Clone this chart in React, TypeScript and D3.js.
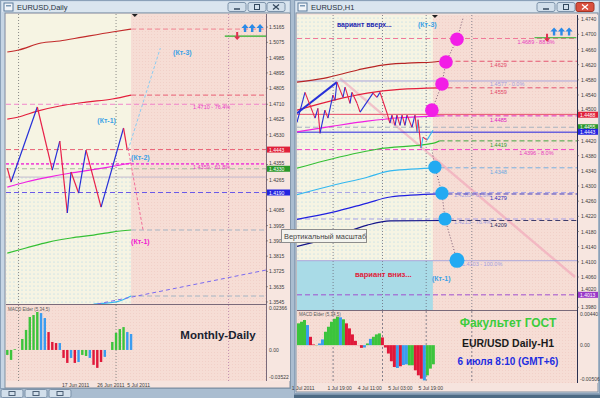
import React, { useEffect, useRef } from 'react';
import * as d3 from 'd3';

// ---- EURUSD, Daily (left window): points are [bar, price] ----
const dailyTicks = [1.5165, 1.5075, 1.4985, 1.4895, 1.4805, 1.471, 1.4625, 1.453, 1.4355, 1.4265, 1.4085, 1.3995, 1.3905, 1.3815, 1.3725, 1.3635, 1.3545];
const dailyMarkers = [1.4443, 1.433, 1.419];
const dailySeparators = [3, 29, 59];
const dailyShiftStart = 33;
const dailyUpperRed = [[0, 1.5018], [3, 1.503], [9, 1.5071], [14, 1.5083], [20, 1.5106], [28, 1.5136], [33, 1.5153]];
const dailyLowerRed = [[0, 1.4623], [3, 1.4635], [8, 1.467], [14, 1.47], [21, 1.4723], [28, 1.4741], [33, 1.4764]];
const dailyMagenta = [[0, 1.4222], [5, 1.4252], [11, 1.4281], [17, 1.4305], [22, 1.4322], [27, 1.434], [33, 1.4364]];
const dailyGreen = [[0, 1.3833], [5, 1.3863], [11, 1.3898], [17, 1.3922], [23, 1.3939], [28, 1.3957], [33, 1.3969]];
const dailyCyan = [[23, 1.3533], [29, 1.3545], [33, 1.358]];
const dailyTrend = [[24, 1.3533], [69, 1.3733]];
const dailyZigzag = [[0, 1.4334], [1, 1.4252], [8, 1.4694], [12, 1.4322], [14, 1.4493], [16, 1.4069], [17, 1.4311], [19, 1.4187], [21, 1.444], [25, 1.4104], [31, 1.457], [32, 1.444]];
const dailyKtUp = [[32.2, 1.444], [40.8, 1.5041]];
const dailyKtDown = [[32.2, 1.4452], [36.2, 1.3969]];
const dailyLevels = [1.471, 1.4443, 1.4359, 1.433, 1.4281, 1.419];
const dailyShiftLevels = [1.5153, 1.4764, 1.3969, 1.358];
const dailyFibs = [1.471, 1.4359];
const dailyFibNames = ['76.4%', '61.8%'];
const dailyTarget = [[58, 1.5112], [69, 1.5112]];
const dailyArrows = [63.4, 65.3, 67.4];
const dailyNotes = ['(Кт-1)', '(Кт-2)', '(Кт-3)', '(Кт-1)'];
const dailyNoteAt = [[24, 1.4599], [33, 1.4381], [44.2, 1.5], [33, 1.3886]];
const dailyMacd = [-0.0028, -0.0056, 0.0004, 0, 0.0062, 0.0113, 0.0186, 0.0197, 0.0214, 0.0208, 0.018, 0.0101, 0.0045, 0.0039, 0.0039, -0.0045, -0.0073, -0.0045, -0.0073, -0.0068, -0.0028, -0.0034, -0.0045, -0.0084, -0.0101, -0.0068, -0.0039, 0, 0.0045, 0.0096, 0.0118, 0.0129, 0.0101, 0.009];
const dailyMacdState = 'gggggggggbbrrrbrrbrbggbrrrbgggggbb';
const dailyMacdLabels = ['0.02366', '0.00', '-0.03522'];
const dailyDates = [[14.6, '17 Jun 2011'], [24, '26 Jun 2011'], [32, '5 Jul 2011']];

// ---- EURUSD, H1 (right window) ----
const hourlyTicks = [1.474, 1.47, 1.466, 1.462, 1.458, 1.454, 1.45, 1.442, 1.438, 1.434, 1.43, 1.426, 1.422, 1.418, 1.414, 1.41, 1.406, 1.402, 1.398];
const hourlyMarkers = [1.4488, 1.4455, 1.4443, 1.4013];
const hourlySeparators = [19, 45, 68, 92];
const hourlyShiftStart = 71.5;
const hourlyBandDarkRed = [[0, 1.4574], [14, 1.4584], [32, 1.4606], [45, 1.4619], [58, 1.4624], [72, 1.4627], [75, 1.4629]];
const hourlyBandRed = [[0, 1.45], [19, 1.4526], [37, 1.4545], [54, 1.4555], [75, 1.4559]];
const hourlyBandMagenta = [[0, 1.4443], [19, 1.4458], [37, 1.4471], [54, 1.448], [75, 1.4485]];
const hourlyBandGreen = [[0, 1.4347], [14, 1.4366], [42, 1.4397], [72, 1.4413], [75, 1.4419]];
const hourlyBandCyan = [[0, 1.4277], [19, 1.4302], [37, 1.4323], [49, 1.434], [75, 1.4348]];
const hourlyBandBlue = [[0, 1.4212], [19, 1.4231], [37, 1.4255], [49, 1.4271], [75, 1.4279]];
const hourlyBandNavy = [[0, 1.4141], [19, 1.4165], [37, 1.4197], [49, 1.4208], [77, 1.4209]];
const hourlyFibs = [1.4689, 1.4577, 1.4396, 1.4283, 1.4213, 1.4103];
const hourlyFibNames = ['88.8%', '0.0%', '8.0%', '61.8%', '76.4%', '100.0%'];
const hourlyLevels = [1.4489, 1.4455, 1.4442, 1.4013];
const hourlyZigzag = [[0, 1.4468], [4.2, 1.4547], [9.5, 1.4479], [11, 1.4505], [12.1, 1.4439], [14.7, 1.45], [16.3, 1.4479], [18.9, 1.454], [20, 1.4526], [21, 1.4574], [24.2, 1.4534], [25.3, 1.4561], [27.9, 1.4518], [28.9, 1.4547], [31.6, 1.4518], [33.2, 1.4495], [40, 1.4545], [42.1, 1.4534], [43.7, 1.4547], [47.4, 1.4492], [48.9, 1.4466], [50, 1.4487], [51.6, 1.446], [52.6, 1.4487], [54.2, 1.446], [55.3, 1.4487], [56.8, 1.446], [57.9, 1.4487], [60.5, 1.4455], [62.1, 1.4487], [63.2, 1.4442], [63.7, 1.4475], [65.3, 1.44], [66.3, 1.4429], [68.4, 1.4421], [71.6, 1.4447]];
const hourlyTrend = [[0, 1.4492], [21, 1.4574]];
const hourlyChannel = [[22.6, 1.4584], [146.3, 1.406]];
const hourlyUpWave = [[71, 1.45], [76.3, 1.4569], [78.4, 1.4627], [84.2, 1.4687], [87.4, 1.4743]];
const hourlyDownWave = [[71, 1.4396], [72.6, 1.435], [76.3, 1.4281], [77.9, 1.4213], [84.2, 1.4104]];
const hourlyTarget = [[125, 1.4691], [147, 1.4691]];
const hourlyArrows = [135.3, 139.2, 143.2];
const hourlyNotes = ['вариант вверх...', '(Кт-3)', 'вариант вниз...', '(Кт-1)'];
const hourlyNoteAt = [[21, 1.4719], [63.7, 1.4719], [30.5, 1.406], [71, 1.4049]];
const hourlyMacd = [0.00308, 0.00331, 0.00355, 0.00284, 0.00118, 0.0001, -0.00004, 0.00024, 0.00081, 0.00189, 0.0026, 0.00331, 0.00373, 0.00402, 0.00393, 0.00365, 0.00308, 0.00237, 0.00152, 0.00061, 0.00002, -0.00038, -0.00033, 0.00024, 0.00089, 0.00118, 0.00152, 0.00166, 0.00109, -0.00033, -0.00118, -0.00227, -0.00308, -0.00322, -0.00298, -0.0028, -0.0027, -0.00284, -0.00284, -0.00355, -0.00426, -0.00473, -0.00497, -0.00426, -0.00331, -0.0027];
const hourlyMacdState = 'gggbrrgbbgggggbgrrrrrrbgbgggrrrrrbrbbggrrrbggg';
const hourlyMacdLabels = ['0.00440', '0.00', '-0.00506'];
const hourlyDates = [[16, '1 Jul 19:00'], [32, '4 Jul 11:00'], [48, '5 Jul 03:00'], [64, '5 Jul 19:00']];

const FONT = '"Liberation Sans", Arial, sans-serif';
const MACD_COLORS = { g: '#3cc43c', b: '#3a9cf0', r: '#e0183a' };

const App = () => {
  const chartRef = useRef<SVGSVGElement>(null);

  useEffect(() => {
    drawChart();
  }, []);

  const drawChart = () => {
    const svg = d3.select(chartRef.current);
    svg.selectAll('*').remove();
    svg.attr('font-family', FONT);

    const defs = svg.append('defs');
    const pattern = (id: string, bg: string, dot: string, size: number, r: number) => {
      const p = defs.append('pattern').attr('id', id).attr('patternUnits', 'userSpaceOnUse')
        .attr('width', size).attr('height', size);
      p.append('rect').attr('width', size).attr('height', size).attr('fill', bg);
      p.append('circle').attr('cx', size / 2).attr('cy', size / 2).attr('r', r).attr('fill', dot);
    };
    pattern('creamDots', '#f6f4e3', '#a9d2ea', 4, 0.6);
    pattern('pinkDots', '#f6ddd5', '#ecc2ba', 3, 0.45);
    const clip = (id: string, x: number, y: number, w: number, h: number) =>
      defs.append('clipPath').attr('id', id).append('rect')
        .attr('x', x).attr('y', y).attr('width', w).attr('height', h);

    const rect = (g: any, x: number, y: number, w: number, h: number, fill: string, stroke?: string) =>
      g.append('rect').attr('x', x).attr('y', y).attr('width', w).attr('height', h)
        .attr('fill', fill).attr('stroke', stroke || 'none');
    const text = (g: any, x: number, y: number, s: string, size: number, fill: string, weight = 'normal', anchor = 'start') =>
      g.append('text').attr('x', x).attr('y', y).attr('font-size', size).attr('fill', fill)
        .attr('font-weight', weight).attr('text-anchor', anchor).text(s);
    const path = (g: any, pts: number[][], x: any, y: any, stroke: string, w: number, dash?: string, curve: any = d3.curveLinear) =>
      g.append('path').datum(pts)
        .attr('d', d3.line<number[]>().x(d => x(d[0])).y(d => y(d[1])).curve(curve))
        .attr('fill', 'none').attr('stroke', stroke).attr('stroke-width', w)
        .attr('stroke-dasharray', dash || null);
    const hline = (g: any, x0: number, x1: number, y: number, stroke: string, w: number, dash?: string) =>
      g.append('line').attr('x1', x0).attr('x2', x1).attr('y1', y).attr('y2', y)
        .attr('stroke', stroke).attr('stroke-width', w).attr('stroke-dasharray', dash || null);
    const vline = (g: any, x: number, y0: number, y1: number, stroke: string, w: number, dash?: string) =>
      g.append('line').attr('x1', x).attr('x2', x).attr('y1', y0).attr('y2', y1)
        .attr('stroke', stroke).attr('stroke-width', w).attr('stroke-dasharray', dash || null);
    const upArrow = (g: any, x: number, y: number, fill: string) =>
      g.append('path').attr('d', 'M0,0 L3.6,4 L1.2,4 L1.2,8 L-1.2,8 L-1.2,4 L-3.6,4 Z')
        .attr('transform', `translate(${x},${y})`).attr('fill', fill);
    const downArrow = (g: any, x: number, y: number, fill: string) =>
      g.append('path').attr('d', 'M0,4 L3.2,0.5 L1,0.5 L1,-4 L-1,-4 L-1,0.5 L-3.2,0.5 Z')
        .attr('transform', `translate(${x},${y})`).attr('fill', fill);
    // keep a price label clear of the coloured marker boxes on the axis
    const labelY = (ty: number, boxYs: number[]) => {
      let y = ty + 2;
      boxYs.forEach(by => {
        if (Math.abs(ty - by) < 6.5) y = ty < by ? by - 4.2 : by + 8;
      });
      return y;
    };

    // desktop + window frames
    rect(svg, 0, 0, 600, 398, '#aabdd0');
    const frame = (x0: number, x1: number, y1: number, title: string, redClose: boolean) => {
      const g = svg.append('g');
      rect(g, x0 + 0.5, 0.5, x1 - x0 - 1, y1, '#c6d5e4', '#8ba1b9');
      rect(g, x0 + 2, 1.5, x1 - x0 - 4, 10.5, '#dae5ef');
      rect(g, x0 + 4, 3, 9, 8, '#f1f4f8', '#5b7b9b');
      rect(g, x0 + 6, 5, 5, 1.5, '#7a98b6');
      text(g, x0 + 17, 10, title, 7.5, '#27323e');
      [x1 - 63, x1 - 43, x1 - 24].forEach((b, i) => {
        const red = i === 2 && redClose;
        rect(g, b, 2.5, 18, 9, red ? '#d9503e' : '#d2dfeb', red ? '#a43222' : '#7d93aa').attr('rx', 2);
        const ink = red ? '#ffffff' : '#34495e';
        if (i === 0) hline(g, b + 6, b + 12, 9, ink, 1.5);
        if (i === 1) rect(g, b + 6.5, 4.5, 5, 5, 'none', ink);
        if (i === 2) {
          g.append('path').attr('d', `M${b + 6},4.5 L${b + 12},9.5 M${b + 12},4.5 L${b + 6},9.5`)
            .attr('stroke', ink).attr('stroke-width', 1.3);
        }
      });
    };
    frame(0, 291, 388, 'EURUSD,Daily', false);
    frame(294, 600, 393, 'EURUSD,H1', true);

    const macdBars = (g: any, vals: number[], states: string, x: any, y: any, w: number) => {
      vals.forEach((v, i) => {
        if (v === 0) return;
        rect(g, x(i) - w / 2, y(Math.max(v, 0)), w, Math.abs(y(v) - y(0)), MACD_COLORS[states[i]]);
      });
    };

    // ================= LEFT: Daily =================
    const L = { x0: 6, x1: 266, y0: 14, y1: 304, m0: 305, m1: 381 };
    const xD = d3.scaleLinear().domain([0, 68]).range([7.3, 262.3]);
    const yD = d3.scaleLinear().domain([1.3533, 1.5242]).range([L.y1, L.y0]);
    const yDm = d3.scaleLinear().domain([-0.0175, 0.02366]).range([L.m1, 308]);
    const shiftD = xD(dailyShiftStart);

    const left = svg.append('g');
    rect(left, 5, 13, 285, 375, '#f6e4de', '#7f8fa0');
    rect(left, L.x0, L.y0, L.x1 - L.x0, L.y1 - L.y0, 'url(#pinkDots)');
    rect(left, L.x0, L.y0, shiftD - L.x0, yD(1.4281) - L.y0, '#f6f4e3');
    rect(left, L.x0, yD(1.4281), shiftD - L.x0, L.y1 - yD(1.4281), 'url(#creamDots)');
    rect(left, L.x0, L.m0, L.x1 - L.x0, L.m1 - L.m0, 'url(#pinkDots)');
    clip('clipDaily', L.x0, L.y0, L.x1 - L.x0, L.y1 - L.y0);
    const dm = left.append('g').attr('clip-path', 'url(#clipDaily)');

    dailySeparators.forEach((d, i) => {
      const c = i === 2 ? '#b47aa4' : '#707070';
      vline(dm, xD(d), L.y0, L.y1, c, 0.8, '1,2');
      vline(left, xD(d), L.m0, L.m1, c, 0.8, '1,2');
    });

    const levelStyle = [['#f07ac8', 0.9, '5,3'], ['#e8506a', 0.9, '5,3'], ['#f050d8', 1.6, '3,2'], ['#a9b9a2', 1, '5,3'], ['#b3abc9', 0.8, null], ['#6a5ae8', 1, '5,3']];
    dailyLevels.forEach((v, i) => {
      const [c, w, dash] = levelStyle[i] as any;
      hline(dm, L.x0, L.x1, yD(v), c, w, dash);
    });
    const shiftStyle = ['#f07a8a', '#e8506a', '#9cb0c2', '#9cb0c2'];
    dailyShiftLevels.forEach((v, i) => hline(dm, shiftD, L.x1, yD(v), shiftStyle[i], 0.9, '5,3'));
    dailyFibs.forEach((v, i) => text(dm, xD(49.5), yD(v) + 5, `${d3.format('.4f')(v)} - ${dailyFibNames[i]}`, 5.5, '#ea38c8'));

    path(dm, dailyUpperRed, xD, yD, '#c22a2a', 1.2, null, d3.curveMonotoneX);
    path(dm, dailyLowerRed, xD, yD, '#e41e3c', 1.2, null, d3.curveMonotoneX);
    path(dm, dailyMagenta, xD, yD, '#f022e2', 1.2, null, d3.curveMonotoneX);
    path(dm, dailyGreen, xD, yD, '#34c034', 1.2, null, d3.curveMonotoneX);
    path(dm, dailyCyan, xD, yD, '#34b8f0', 1.2, null, d3.curveMonotoneX);
    path(dm, dailyTrend, xD, yD, '#7a6af0', 1, '4,3');

    d3.pairs(dailyZigzag).forEach(([a, b]) => {
      path(dm, [a, b], xD, yD, b[1] > a[1] ? '#2630d8' : '#e8204a', 1.2);
    });
    path(dm, dailyKtUp, xD, yD, '#8ccdf2', 1, '3,2');
    path(dm, dailyKtDown, xD, yD, '#f2709a', 1, '3,2');

    const dailyNoteColor = ['#3aa2e6', '#3aa2e6', '#3aa2e6', '#f020d0'];
    dailyNotes.forEach((s, i) => text(dm, xD(dailyNoteAt[i][0]), yD(dailyNoteAt[i][1]), s, 7, dailyNoteColor[i], 'bold'));

    path(dm, dailyTarget, xD, yD, '#28b028', 1.2);
    dailyArrows.forEach(d => upArrow(dm, xD(d), yD(1.5183), '#2a8ae8'));
    downArrow(dm, xD(61.3), yD(1.5112), '#e03050');
    dm.append('path').attr('d', `M${xD(34) - 3},${L.y0} L${xD(34) + 3},${L.y0} L${xD(34)},${L.y0 + 3} Z`).attr('fill', '#202020');

    // daily price axis
    vline(left, L.x1 + 0.5, L.y0, L.m1, '#7a6a7a', 1);
    hline(left, L.x0, L.x1, L.y1 + 0.5, '#7a6a7a', 1);
    rect(left, L.x1 + 1, L.y0, 289 - L.x1, L.m1 - L.y0, '#f7e6e0');
    const dailyBoxYs = dailyMarkers.map(v => yD(v));
    dailyTicks.forEach(t => {
      hline(left, L.x1, L.x1 + 2, yD(t), '#555', 0.6);
      text(left, L.x1 + 3, labelY(yD(t), dailyBoxYs), d3.format('.4f')(t), 5, '#3c3c3c');
    });
    const dailyBoxColor = ['#e0203a', '#2a982a', '#2424e0'];
    dailyMarkers.forEach((v, i) => {
      rect(left, L.x1 + 1, yD(v) - 3, 23, 6, dailyBoxColor[i]);
      text(left, L.x1 + 3, yD(v) + 2, d3.format('.4f')(v), 5, '#ffffff');
    });

    // daily MACD
    macdBars(left, dailyMacd, dailyMacdState, xD, yDm, 2.4);
    text(left, 8, 311, 'MACD Elder (5,34,5)', 4.5, '#5a5a5a');
    text(left, L.x1 + 3, 310, dailyMacdLabels[0], 5, '#3c3c3c');
    text(left, L.x1 + 3, yDm(0) + 2, dailyMacdLabels[1], 5, '#3c3c3c');
    text(left, L.x1 + 3, 379, dailyMacdLabels[2], 5, '#3c3c3c');
    text(left, 218, 339, 'Monthly-Daily', 11.5, '#1a2230', 'bold', 'middle');
    dailyDates.forEach(([d, s]) => text(left, xD(d as number), 387, s as string, 5, '#3c3c3c'));

    // ================= RIGHT: H1 =================
    const R = { x0: 297, x1: 577, y0: 15, y1: 310, m0: 311, m1: 383 };
    const xH = d3.scaleLinear().domain([0, 147]).range([297, 576.3]);
    const yH = d3.scaleLinear().domain([1.3973, 1.4751]).range([R.y1, R.y0]);
    const yHm = d3.scaleLinear().domain([-0.00506, 0.0044]).range([381, 314]);
    const shiftH = xH(hourlyShiftStart);

    const right = svg.append('g');
    rect(right, 296, 13, 302, 379, '#f6e4de', '#7f8fa0');
    rect(right, R.x0, R.y0, R.x1 - R.x0, R.y1 - R.y0, 'url(#pinkDots)');
    rect(right, R.x0, R.y0, shiftH - R.x0, yH(1.4103) - R.y0, 'url(#creamDots)');
    rect(right, R.x0, yH(1.4103), shiftH - R.x0, R.y1 - yH(1.4103), '#a9dbe7');
    rect(right, R.x0, R.m0, R.x1 - R.x0, R.m1 - R.m0, 'url(#pinkDots)');
    clip('clipHourly', R.x0, R.y0, R.x1 - R.x0, R.y1 - R.y0);
    const hm = right.append('g').attr('clip-path', 'url(#clipHourly)');

    hourlySeparators.forEach(b => {
      vline(hm, xH(b), R.y0, R.y1, '#6a6a7a', 0.8, '1,2');
      vline(right, xH(b), R.m0, R.m1, '#6a6a7a', 0.8, '2,2');
    });

    path(hm, hourlyChannel, xH, yH, '#f09ab4', 2.4).attr('opacity', 0.55);

    const fibStyle = [['#f07a9a', '5,3'], ['#aaa6dc', null], ['#f040c8', '5,3'], ['#a7a2e6', '5,3'], ['#a7a2e6', '5,3'], ['#aaa6dc', null]];
    const fibLabelAt = [116, 101.6, 117, 82.6, 82.6, 86.8];
    hourlyFibs.forEach((v, i) => {
      const [c, dash] = fibStyle[i] as any;
      hline(hm, R.x0, R.x1, yH(v), c, 1, dash);
      text(hm, xH(fibLabelAt[i]), yH(v) + 5, `${d3.format('.4f')(v)} - ${hourlyFibNames[i]}`, 5.5, i === 0 || i === 2 ? '#e83cc0' : '#a29ee0');
    });
    const levelColors = [['#e8506a', null], ['#a8b4c0', '5,3'], ['#2424e0', null], ['#a050d0', '5,3']];
    hourlyLevels.forEach((v, i) => {
      const [c, dash] = levelColors[i] as any;
      hline(hm, R.x0, R.x1, yH(v), c, 1, dash);
    });

    const bands = [hourlyBandDarkRed, hourlyBandRed, hourlyBandMagenta, hourlyBandGreen, hourlyBandCyan, hourlyBandBlue, hourlyBandNavy];
    const bandColors = ['#b82424', '#e41e3c', '#f022e2', '#34c034', '#34b8f0', '#2020e0', '#14148a'];
    const bandLabelColors = ['#e24868', '#e24868', '#e020c4', '#2e9e2e', '#6aa8e0', '#2a2ac0', '#2a2a60'];
    bands.forEach((b, i) => {
      path(hm, b, xH, yH, bandColors[i], 1.2, null, d3.curveMonotoneX);
      const end = b[b.length - 1];
      hline(hm, xH(end[0]), R.x1, yH(end[1]), bandLabelColors[i], 0.9, '5,3');
      text(hm, xH(101.6), yH(end[1]) + 6, d3.format('.4f')(end[1]), 5.5, bandLabelColors[i]);
    });

    path(hm, hourlyTrend, xH, yH, '#2630d8', 2);
    d3.pairs(hourlyZigzag).forEach(([a, b]) => {
      const up = b[1] > a[1];
      path(hm, [a, b], xH, yH, up ? (a[0] >= 63 ? '#38b8f0' : '#2630d8') : '#e8204a', 1.1);
    });

    path(hm, hourlyUpWave, xH, yH, '#5a3a5a', 0.8, '1,2');
    path(hm, hourlyDownWave, xH, yH, '#5a3a5a', 0.8, '1,2');
    hourlyUpWave.slice(0, 4).forEach(p => hm.append('circle').attr('cx', xH(p[0])).attr('cy', yH(p[1])).attr('r', 6.8).attr('fill', '#f21ee6'));
    hourlyDownWave.slice(1).forEach((p, i) => hm.append('circle').attr('cx', xH(p[0])).attr('cy', yH(p[1])).attr('r', i === 3 ? 7.5 : 6.6).attr('fill', '#22aaf2'));

    path(hm, hourlyTarget, xH, yH, '#28b028', 1.2);
    hourlyArrows.forEach(b => upArrow(hm, xH(b), yH(1.4718), '#2a8ae8'));
    downArrow(hm, xH(131.6), yH(1.4691), '#e03050');
    hm.append('path').attr('d', `M${xH(72.6) - 3},${R.y0} L${xH(72.6) + 3},${R.y0} L${xH(72.6)},${R.y0 + 3} Z`).attr('fill', '#202020');

    const hourlyNoteStyle = [['#1c28b0', 6.8], ['#3aa2e6', 7], ['#e0203a', 7.6], ['#3aa2e6', 7]];
    hourlyNotes.forEach((s, i) => {
      const [c, size] = hourlyNoteStyle[i] as any;
      text(hm, xH(hourlyNoteAt[i][0]), yH(hourlyNoteAt[i][1]), s, size, c, 'bold');
    });

    // hourly price axis
    vline(right, R.x1 + 0.5, R.y0, R.m1, '#2a3050', 1);
    hline(right, R.x0, R.x1, R.y1 + 0.5, '#7a6a7a', 1);
    rect(right, R.x1 + 1, R.y0, 20, R.m1 - R.y0, '#f7e6e0');
    const hourlyBoxYs = hourlyMarkers.map(v => yH(v));
    hourlyTicks.forEach(t => {
      hline(right, R.x1, R.x1 + 2, yH(t), '#555', 0.6);
      text(right, R.x1 + 4, labelY(yH(t), hourlyBoxYs), d3.format('.4f')(t), 5, '#3c3c3c');
    });
    const hourlyBoxColor = ['#e0203a', '#2a982a', '#2424e0', '#9a38c8'];
    hourlyMarkers.forEach((v, i) => {
      rect(right, R.x1 + 1, yH(v) - 3, 20, 6, hourlyBoxColor[i]);
      text(right, R.x1 + 3, yH(v) + 2, d3.format('.4f')(v), 5, '#ffffff');
    });

    // hourly MACD
    const xHm = d3.scaleBand<number>().domain(d3.range(hourlyMacd.length)).range([R.x0, xH(hourlyShiftStart) + 2]);
    macdBars(right, hourlyMacd, hourlyMacdState, (i: number) => (xHm(i) as number) + xHm.bandwidth() / 2, yHm, xHm.bandwidth());
    text(right, 299, 316, 'MACD Elder (5,34,5)', 4.5, '#5a5a5a');
    text(right, R.x1 + 3, 316, hourlyMacdLabels[0], 5, '#3c3c3c');
    text(right, R.x1 + 3, yHm(0) + 2, hourlyMacdLabels[1], 5, '#3c3c3c');
    text(right, R.x1 + 3, 381, hourlyMacdLabels[2], 5, '#3c3c3c');
    text(right, xH(9.2), 390, '1 Jul 2011', 5, '#3c3c3c', 'normal', 'end');
    hourlyDates.forEach(([b, s]) => text(right, xH(b as number), 390, s as string, 5, '#3c3c3c'));
    text(right, 508, 327, 'Факультет ГОСТ', 12, '#3ccc3c', 'bold', 'middle');
    text(right, 508, 347, 'EUR/USD Daily-H1', 10.5, '#1a1a1a', 'bold', 'middle');
    text(right, 508, 365, '6 июля 8:10 (GMT+6)', 10, '#1e2ee0', 'bold', 'middle');

    // minimized windows + bottom strip
    rect(svg, 294, 394.5, 306, 3.5, '#4d6b85');
    [1, 25, 49].forEach(x => {
      rect(svg, x, 389.5, 22, 8, '#d2dfeb', '#7d93aa').attr('rx', 1.5);
      rect(svg, x + 8, 391.5, 6, 4, 'none', '#4a5e74');
    });

    // tooltip
    rect(svg, 281.5, 229.5, 85, 13, '#f3f3ee', '#8d8d8d');
    text(svg, 284, 239, 'Вертикальный масштаб', 7.4, '#454545');
  };

  return <svg ref={chartRef} width={600} height={398} style={{ position: 'absolute', left: 0, top: 0 }} />;
};

export default App;
